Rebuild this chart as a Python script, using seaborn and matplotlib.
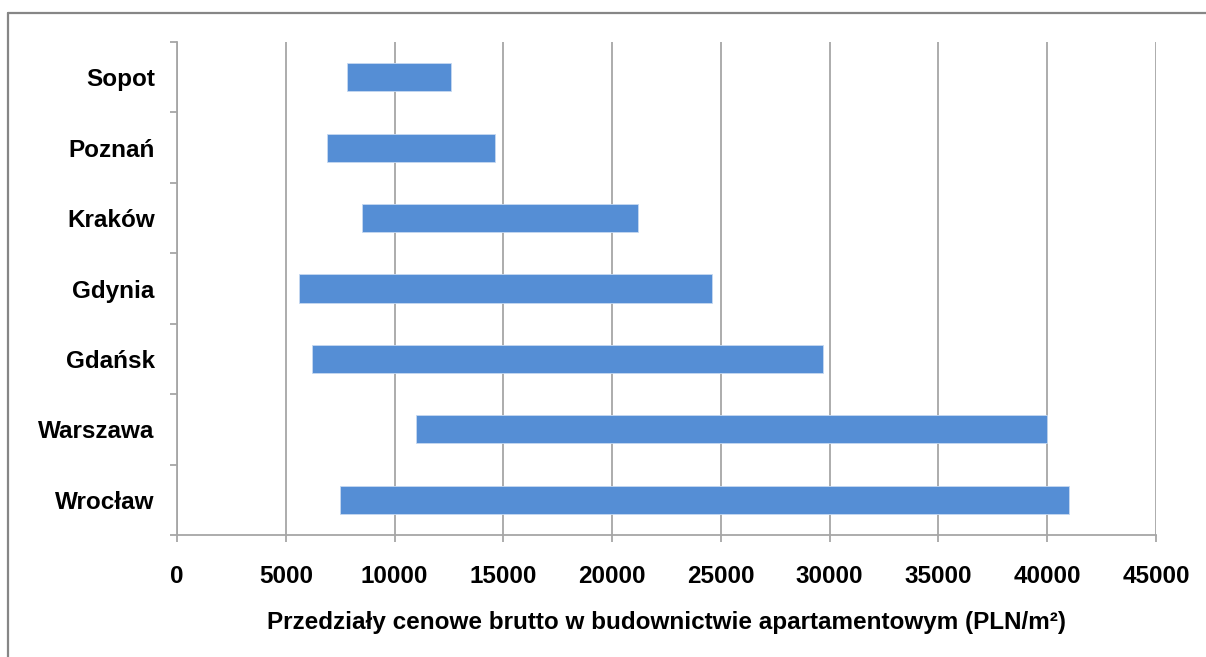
import numpy as np
import pandas as pd
import seaborn as sns
import matplotlib.pyplot as plt
from matplotlib.lines import Line2D
from matplotlib.ticker import MultipleLocator, FixedLocator

# przedziały cen (PLN/m2): od - do
MIASTA = ["Sopot", "Poznań", "Kraków", "Gdynia", "Gdańsk", "Warszawa", "Wrocław"]
CENA_OD = [7800, 6900, 8500, 5600, 6200, 11000, 7500]
CENA_DO = [12600, 14600, 21200, 24600, 29700, 40000, 41000]

KOLOR = "#558ED5"
SZARY = "#A6A6A6"


def rysuj():
    df = pd.DataFrame({"Miasto": MIASTA, "od": CENA_OD, "do": CENA_DO})
    df["rozpietosc"] = df["do"] - df["od"]

    sns.set_theme(style="white")
    plt.rcParams["font.family"] = ["Liberation Sans", "DejaVu Sans"]
    plt.rcParams["font.weight"] = "bold"
    plt.rcParams["text.color"] = "black"
    plt.rcParams["xtick.labelcolor"] = "black"
    plt.rcParams["ytick.labelcolor"] = "black"
    plt.rcParams["axes.labelcolor"] = "black"

    fig = plt.figure(figsize=(12.06, 6.57), dpi=100)
    ax = fig.add_axes([177 / 1206, 1 - 535 / 657, (1156 - 177) / 1206, (535 - 42) / 657])

    sns.barplot(data=df, y="Miasto", x="rozpietosc", orient="h", color=KOLOR,
                saturation=1, width=0.4, ax=ax, zorder=3)
    # słupki pływające: przesunięcie początku do ceny minimalnej
    for patch, start in zip(ax.patches, df["od"]):
        patch.set_x(start)
        patch.set_edgecolor("#C6D9F1")
        patch.set_linewidth(0.6)

    ax.set_xlim(0, 45000)
    ax.set_ylim(6.5, -0.5)
    ax.xaxis.set_major_locator(MultipleLocator(5000))
    ax.grid(axis="x", color=SZARY, linewidth=1.3, zorder=0)
    ax.grid(axis="y", visible=False)
    ax.set_axisbelow(True)

    for s in ["top", "right"]:
        ax.spines[s].set_visible(False)
    for s in ["left", "bottom"]:
        ax.spines[s].set_color(SZARY)
        ax.spines[s].set_linewidth(1.3)

    ax.yaxis.set_minor_locator(FixedLocator(np.arange(-0.5, 7, 1)))
    ax.tick_params(axis="y", which="major", length=0, pad=16, labelsize=17.5, labelcolor="black")
    ax.tick_params(axis="y", which="minor", length=5, width=1.3, color=SZARY, direction="out", left=True)
    ax.tick_params(axis="x", which="major", length=5, width=1.3, color=SZARY, direction="out",
                   bottom=True, pad=16.5, labelsize=17.5, labelcolor="black")
    for t in ax.get_xticklabels() + ax.get_yticklabels():
        t.set_fontweight("bold")

    ax.set_ylabel("")
    ax.set_xlabel("Przedziały cenowe brutto w budownictwie apartamentowym (PLN/m²)",
                  fontsize=17.5, fontweight="bold", labelpad=17, color="black")

    # ramka wykresu
    fig.add_artist(Line2D([8 / 1206, 1], [1 - 13 / 657, 1 - 13 / 657], color="#868686", linewidth=1.6))
    fig.add_artist(Line2D([8 / 1206, 8 / 1206], [0, 1 - 13 / 657], color="#868686", linewidth=1.6))

    fig.savefig("out.png", dpi=100)


if __name__ == "__main__":
    rysuj()
